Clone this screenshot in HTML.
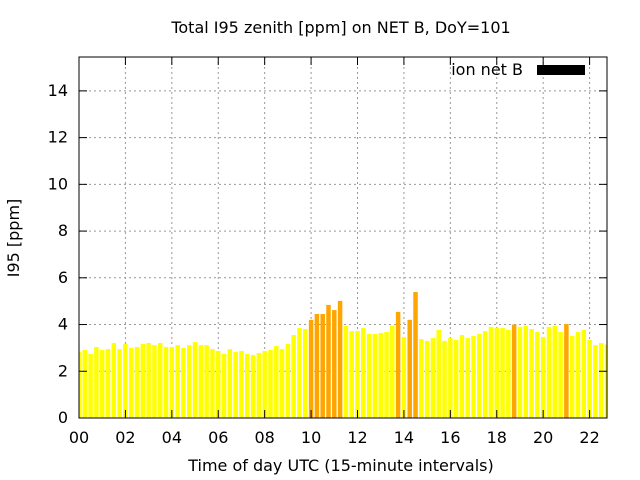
<!DOCTYPE html>
<html><head><meta charset="utf-8"><style>
body{margin:0;background:#fff;}
svg{display:block;font-family:"DejaVu Sans","Liberation Sans",sans-serif;}
</style></head><body>
<svg id="chart" width="640" height="480">
<rect width="640" height="480" fill="#fff"/>
<text x="341" y="33" text-anchor="middle" font-size="16">Total I95 zenith [ppm] on NET B, DoY=101</text>
<g id="grid"></g>
<g id="bars"></g>
<g id="axes"></g>
<text x="341" y="471" text-anchor="middle" font-size="16">Time of day UTC (15-minute intervals)</text>
<text transform="translate(19,238) rotate(-90)" text-anchor="middle" font-size="16">I95 [ppm]</text>
<g>
<text x="523" y="75" text-anchor="end" font-size="16">ion net B</text>
<rect x="537" y="65" width="48" height="10" fill="#000"/>
</g>
</svg>
<script>
const values=[2.84,2.91,2.74,3.04,2.91,2.95,3.21,2.95,3.17,3.00,3.04,3.17,3.21,3.12,3.21,3.04,3.04,3.12,3.00,3.12,3.25,3.12,3.12,2.95,2.87,2.74,2.95,2.83,2.87,2.74,
2.70,2.78,2.87,2.91,3.08,2.95,3.17,3.55,3.85,3.81,4.20,4.45,4.45,4.84,4.62,5.01,3.94,3.72,3.72,3.85,3.60,3.60,3.64,3.68,3.96,4.54,3.47,4.20,5.39,3.38,3.30,
3.42,3.77,3.30,3.42,3.34,3.55,3.42,3.51,3.60,3.72,3.90,3.85,3.85,3.77,4.00,3.90,3.94,3.81,3.68,3.47,3.90,3.94,3.68,4.02,3.51,3.68,3.77,3.34,3.12,3.21,3.14];
const xTicks=["00","02","04","06","08","10","12","14","16","18","20","22"];
const yTicks=[0,2,4,6,8,10,12,14];
const threshold=4.0;
const L=79,R=607,T=57,B=418,YMAX=15.45,XMAX=22.75;
const xs=h=>L+(h/XMAX)*(R-L);
const ys=v=>B-(v/YMAX)*(B-T);
const NS="http://www.w3.org/2000/svg";
function mk(tag,attrs,parent){const e=document.createElementNS(NS,tag);for(const k in attrs)e.setAttribute(k,attrs[k]);parent.appendChild(e);return e;}
const grid=document.getElementById('grid'),bars=document.getElementById('bars'),axes=document.getElementById('axes');
yTicks.forEach(v=>{
  const y=ys(v);
  if(v>0){const g=mk('line',{x1:L,x2:R,y1:y,y2:y,stroke:'#999','stroke-dasharray':'2,3'},grid);
  
  }
  mk('line',{x1:L,x2:L+8,y1:y,y2:y,stroke:'#000'},axes);
  mk('line',{x1:R,x2:R-8,y1:y,y2:y,stroke:'#000'},axes);
  const t=mk('text',{x:L-11,y:y+5,'text-anchor':'end','font-size':16},axes);t.textContent=v;
  
  
});
xTicks.forEach(s=>{
  const x=xs(parseInt(s,10));
  if(x>L){const g=mk('line',{x1:x,x2:x,y1:T,y2:B,stroke:'#999','stroke-dasharray':'2,3'},grid);
  
  }
  mk('line',{x1:x,x2:x,y1:B,y2:B-8,stroke:'#000'},axes);
  mk('line',{x1:x,x2:x,y1:T,y2:T+8,stroke:'#000'},axes);
  const t=mk('text',{x:x,y:B+25,'text-anchor':'middle','font-size':16},axes);t.textContent=s;
  
  
});
values.forEach((v,i)=>{
  const c=xs(i*0.25),w=4.5;
  let x0=Math.max(L,c-w/2),x1=Math.min(R,c+w/2);
  const r=mk('rect',{x:x0,y:ys(v),width:x1-x0,height:B-ys(v),fill:v>=threshold?'#ffa500':'#ffff00'},bars);
  
  
});
const fr=mk('rect',{x:L,y:T,width:R-L,height:B-T,fill:'none',stroke:'#000','stroke-width':1},axes);


</script>
</body></html>
